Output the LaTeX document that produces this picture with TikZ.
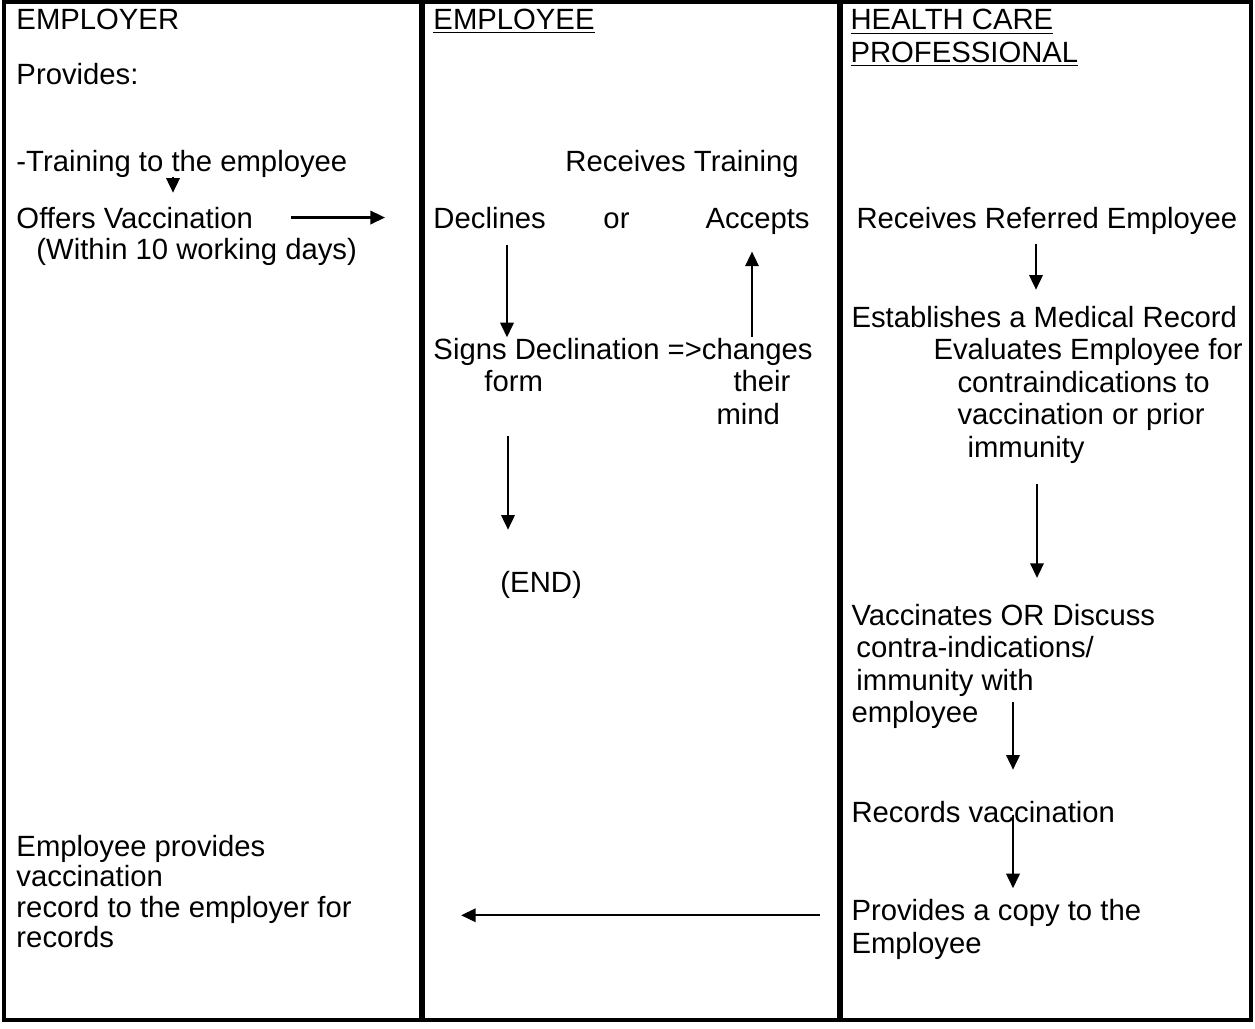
\documentclass[tikz,border=0pt]{standalone}
\usepackage{fontspec}
\setmainfont{Liberation Sans}
\usetikzlibrary{arrows.meta,calc}

\begin{document}
\begin{tikzpicture}[
  x=0.41pt, y=-0.41pt,
  txt/.style={anchor=base west, inner sep=0pt, align=left, font=\fontsize{12}{13.3}\selectfont},
  arr/.style={-{Triangle[length=6pt,width=5.5pt]}, line width=0.9pt},
  frame/.style={line width=1.6pt},
  lane/.style={line width=2.2pt}
]
\useasboundingbox (0,0) rectangle (1255,1028);
% three lanes
\draw[frame] (4,2) rectangle (1251,1020);
\draw[lane] (422,2) -- (422,1020);
\draw[lane] (840,2) -- (840,1020);

% employer
\node[txt] (empr) at (16,29) {EMPLOYER};
\node[txt] (prov) at (16,84) {Provides:};
\node[txt] (trn) at (16,171) {-Training to the employee};
\node[txt] (offr) at (16,228) {Offers Vaccination};
\node[txt] (days) at (36,259) {(Within 10 working days)};
% multi-line nodes sit on their last line
\node[txt, font=\fontsize{12}{12.5}\selectfont] (recs) at (16,947.5)
  {Employee provides\\vaccination\\record to the employer for\\records};

% employee
\node[txt] (empe) at (433,29) {\underline{EMPLOYEE}};
\node[txt] (rtr) at (565,171) {Receives Training};
\node[txt] (decl) at (433,228) {Declines};
\node[txt] (orw) at (603,228) {or};
\node[txt] (acc) at (705,228) {Accepts};
\node[txt] (sign) at (433,359) {Signs Declination =>changes};
\node[txt] (form) at (484,391) {form};
\node[txt] (their) at (733,391) {their};
\node[txt] (mind) at (716,424) {mind};
\node[txt] (fin) at (500,592) {(END)};

% health care professional
\node[txt] (hcp) at (850,62) {\underline{HEALTH CARE}\\\underline{PROFESSIONAL}};
\node[txt] (rre) at (856,228) {Receives Referred Employee};
\node[txt] (est) at (851,327) {Establishes a Medical Record};
\node[txt] (ev1) at (933,359.5) {Evaluates Employee for};
\node[txt] (ev2) at (957,392) {contraindications to};
\node[txt] (ev3) at (957,424.5) {vaccination or prior};
\node[txt] (ev4) at (967,457) {immunity};
\node[txt] (vac) at (851,722.5)
  {Vaccinates OR Discuss\\\hspace*{2pt}contra-indications/\\\hspace*{2pt}immunity with\\employee};
\node[txt] (rec) at (851,822) {Records vaccination};
\node[txt] (cpy) at (851,953) {Provides a copy to the\\Employee};

% flow
\draw[arr] ($(trn.south west)+(157,-1)$) -- ($(offr.north west)+(157,-13.6)$);
\draw[arr] ($(offr.east)+(38,0)$) -- ($(decl.west)+(-48,0)$);
\draw[arr] ($(decl.south west)+(74,16)$) -- ($(sign.north west)+(74,0)$);
\draw[arr] ($(sign.north west)+(319,0)$) -- ($(acc.south west)+(47,17)$);
\draw[arr] ($(form.south west)+(24,44)$) -- ($(fin.north west)+(8,-40.6)$);
\draw[arr] ($(rre.south west)+(180,9)$) -- ($(est.north west)+(185,-15.6)$);
\draw[arr] ($(ev4.south west)+(70,20)$) -- ($(vac.north west)+(186,-25.6)$);
\draw[arr] ($(vac.north west)+(162,98.4)$) -- ($(rec.north west)+(162,-30.6)$);
\draw[arr] ($(rec.north west)+(162,14.4)$) -- ($(cpy.north west)+(162,-10.6)$);
\draw[arr] ($(cpy.north west)+(-31,16.4)$) -- ($(cpy.north west -| recs.east)+(109,16.4)$);
\end{tikzpicture}
\end{document}
